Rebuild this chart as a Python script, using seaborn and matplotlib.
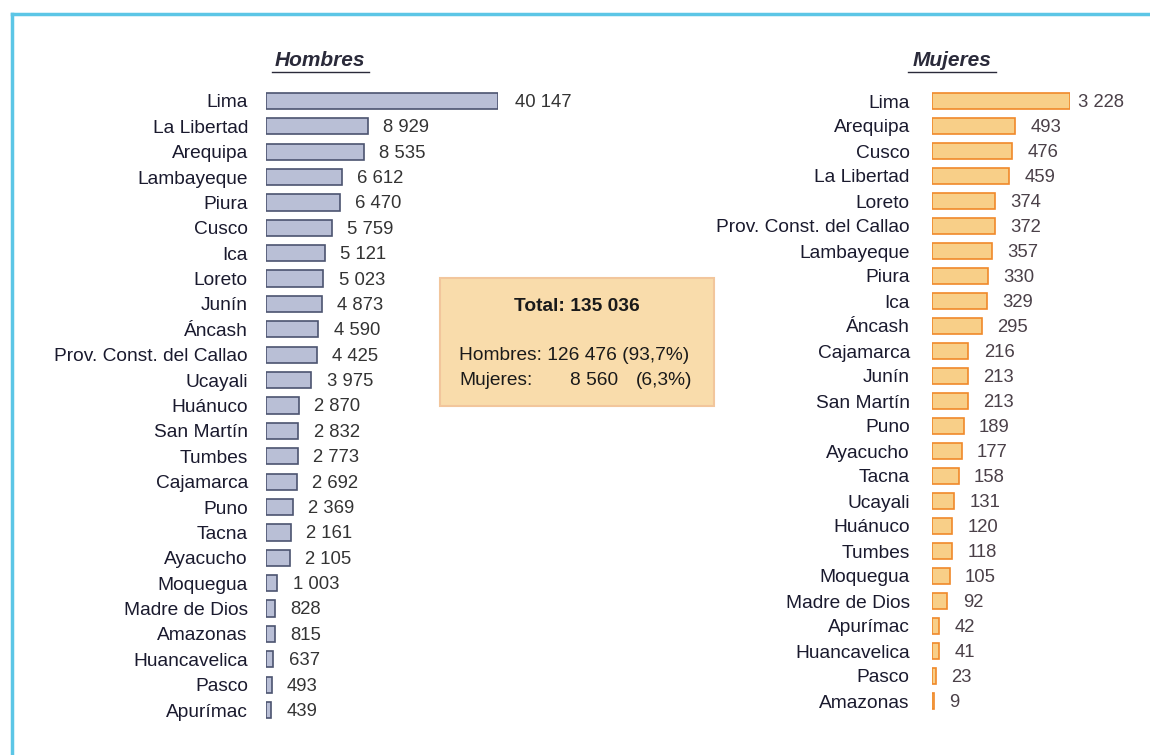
import seaborn as sns
import matplotlib.pyplot as plt
import pandas as pd
from matplotlib.patches import Rectangle
from matplotlib.lines import Line2D

# data
hombres_dep = ['Lima', 'La Libertad', 'Arequipa', 'Lambayeque', 'Piura', 'Cusco', 'Ica',
               'Loreto', 'Junín', 'Áncash', 'Prov. Const. del Callao', 'Ucayali', 'Huánuco',
               'San Martín', 'Tumbes', 'Cajamarca', 'Puno', 'Tacna', 'Ayacucho', 'Moquegua',
               'Madre de Dios', 'Amazonas', 'Huancavelica', 'Pasco', 'Apurímac']
hombres_val = [40147, 8929, 8535, 6612, 6470, 5759, 5121, 5023, 4873, 4590, 4425, 3975, 2870,
               2832, 2773, 2692, 2369, 2161, 2105, 1003, 828, 815, 637, 493, 439]

mujeres_dep = ['Lima', 'Arequipa', 'Cusco', 'La Libertad', 'Loreto', 'Prov. Const. del Callao',
               'Lambayeque', 'Piura', 'Ica', 'Áncash', 'Cajamarca', 'Junín', 'San Martín', 'Puno',
               'Ayacucho', 'Tacna', 'Ucayali', 'Huánuco', 'Tumbes', 'Moquegua', 'Madre de Dios',
               'Apurímac', 'Huancavelica', 'Pasco', 'Amazonas']
mujeres_val = [3228, 493, 476, 459, 374, 372, 357, 330, 329, 295, 216, 213, 213, 189, 177, 158,
               131, 120, 118, 105, 92, 42, 41, 23, 9]

W, H = 1150, 755
FONT = 'Liberation Sans'
FS = 13.8


def fmt(v):
    return f"{v:,}".replace(",", " ")


def px_axes(fig, x0, x1, y0, y1):
    # pixel box (top-left origin) -> figure axes
    return fig.add_axes([x0 / W, (H - y1) / H, (x1 - x0) / W, (y1 - y0) / H])


fig = plt.figure(figsize=(W / 100, H / 100), dpi=100)
fig.patch.set_facecolor('white')
plt.rcParams['font.family'] = [FONT, 'DejaVu Sans']


def panel(ax, deps, vals, cap, fill, edge, pad, valcolor, cap_off):
    df = pd.DataFrame({'dep': deps, 'val': vals})
    sns.barplot(data=df, y='dep', x='val', orient='h', ax=ax, color=fill,
                edgecolor=edge, linewidth=1.2, width=0.64, saturation=1)
    # truncated scale: the largest bar is cut at the axis limit
    for p in ax.patches:
        if p.get_width() > cap:
            p.set_width(cap)
    ax.set_xlim(0, cap)
    for i, v in enumerate(vals):
        off = cap_off if v > cap else 11
        ax.annotate(fmt(v), xy=(min(v, cap), i), xytext=(off, -1), textcoords='offset points',
                    va='center', ha='left', fontsize=FS - 0.5, color=valcolor,
                    annotation_clip=False)
    ax.set_xlabel('')
    ax.set_ylabel('')
    ax.set_xticks([])
    ax.tick_params(axis='y', length=0, pad=pad, labelsize=FS, labelcolor='#1a1a2e')
    for s in ax.spines.values():
        s.set_visible(False)
    ax.set_facecolor('none')


ax1 = px_axes(fig, 266, 498, 88.3, 722.7)
panel(ax1, hombres_dep, hombres_val, 20300, '#b9bfd6', '#4c5470', 13, '#333333', 12)

ax2 = px_axes(fig, 932, 1070, 88.5, 713.5)
panel(ax2, mujeres_dep, mujeres_val, 820, '#f8cf88', '#f0892a', 16, '#4a4048', 6)

# frame
fig.add_artist(Line2D([12 / W, 1], [1 - 14 / H, 1 - 14 / H], color='#5cc6e6', lw=2.5))
fig.add_artist(Line2D([12 / W, 12 / W], [0, 1 - 14 / H], color='#5cc6e6', lw=2.5))

# panel titles
for title, cx, x0, x1 in [('Hombres', 320, 272, 369), ('Mujeres', 952, 908, 996)]:
    fig.text(cx / W, 1 - 60 / H, title, ha='center', va='center', fontsize=15,
             fontstyle='italic', fontweight='bold', color='#2a2a3a')
    fig.add_artist(Line2D([x0 / W, x1 / W], [1 - 72 / H, 1 - 72 / H], color='#2a2a3a', lw=1))

# summary box
tot_h, tot_m = sum(hombres_val), sum(mujeres_val)
total = tot_h + tot_m
fig.add_artist(Rectangle((440 / W, 1 - 406 / H), 274 / W, 128 / H, transform=fig.transFigure,
                         facecolor='#f9dcab', edgecolor='#f2c69c', lw=1.5))
fig.text(577 / W, 1 - 307 / H, f"Total: {fmt(total)}", ha='center', va='center',
         fontsize=FS, fontweight='bold', color='#1a1a1a')
fig.text(459 / W, 1 - 356 / H, f"Hombres: {fmt(tot_h)} ({tot_h / total * 100:.1f}%)".replace('.', ','),
         ha='left', va='center', fontsize=FS, color='#1a1a1a')
fig.text(459 / W, 1 - 381 / H, "Mujeres:", ha='left', va='center', fontsize=FS, color='#1a1a1a')
fig.text(618 / W, 1 - 381 / H, fmt(tot_m), ha='right', va='center', fontsize=FS, color='#1a1a1a')
fig.text(692 / W, 1 - 381 / H, f"({tot_m / total * 100:.1f}%)".replace('.', ','), ha='right',
         va='center', fontsize=FS, color='#1a1a1a')

fig.savefig('out.png', dpi=100)
